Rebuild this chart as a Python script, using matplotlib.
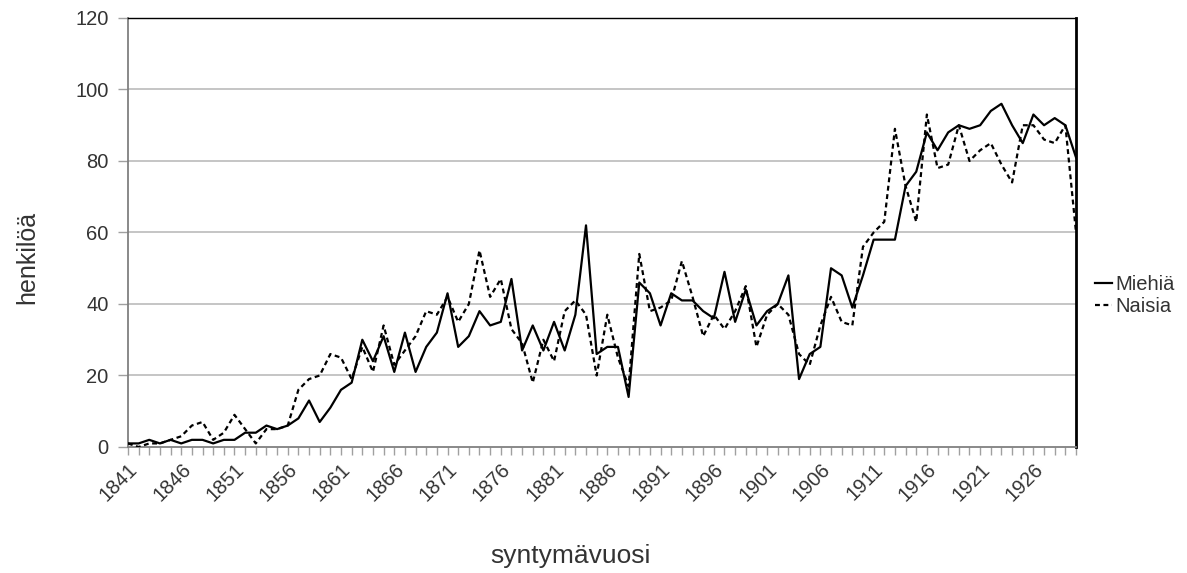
import matplotlib
matplotlib.use("Agg")
import matplotlib.pyplot as plt
import numpy as np

plt.rcParams['font.family'] = ['Liberation Sans', 'DejaVu Sans']

years = list(range(1841, 1931))

miehia = [1, 1, 2, 1, 2, 1, 2, 2, 1, 2,
          2, 4, 4, 6, 5, 6, 8, 13, 7, 11,
          16, 18, 30, 24, 31, 21, 32, 21, 28, 32,
          43, 28, 31, 38, 34, 35, 47, 27, 34, 27,
          35, 27, 37, 62, 26, 28, 28, 14, 46, 43,
          34, 43, 41, 41, 38, 36, 49, 35, 44, 34,
          38, 40, 48, 19, 26, 28, 50, 48, 39, 48,
          58, 58, 58, 73, 77, 88, 83, 88, 90, 89,
          90, 94, 96, 90, 85, 93, 90, 92, 90, 81]

naisia = [1, 0, 1, 1, 2, 3, 6, 7, 2, 4,
          9, 5, 1, 5, 5, 6, 16, 19, 20, 26,
          25, 19, 28, 21, 34, 23, 27, 31, 38, 37,
          42, 35, 40, 55, 42, 47, 33, 29, 18, 30,
          24, 38, 41, 37, 20, 37, 25, 17, 54, 38,
          39, 41, 52, 42, 31, 37, 33, 38, 45, 28,
          37, 40, 37, 26, 23, 34, 42, 35, 34, 56,
          60, 63, 89, 73, 63, 93, 78, 79, 90, 80,
          83, 85, 79, 74, 90, 90, 86, 85, 90, 60]

label_years = [y for y in years if (y - 1841) % 5 == 0]

fig = plt.figure(figsize=(11.87, 5.73), dpi=100)
ax = fig.add_axes([0.1078, 0.2199, 0.7987, 0.7487])

grid_col = "#c0c0c0"
for v in [20, 40, 60, 80, 100]:
    ax.axhline(v, color=grid_col, linewidth=1.3, zorder=1)

ax.plot(years, miehia, color="black", linewidth=1.6, label="Miehiä", zorder=3)
ax.plot(years, naisia, color="black", linewidth=1.6, linestyle=(0, (2.2, 1.6)),
        label="Naisia", zorder=3)

ax.set_xlim(1841, 1930)
ax.set_ylim(0, 120)
ax.set_yticks([0, 20, 40, 60, 80, 100, 120])

ax.set_xticks(years, minor=True)
ax.set_xticks(label_years)
ax.set_xticklabels([str(y) for y in label_years], rotation=45, ha="right",
                   rotation_mode="anchor")

ax.tick_params(axis="both", which="both", direction="out", length=7,
               color="#a0a0a0", width=1, labelsize=14.5, labelcolor="#333333")
ax.tick_params(axis="x", which="both", length=6, pad=3)
ax.tick_params(axis="y", pad=7)

ax.spines["left"].set_color("#808080")
ax.spines["bottom"].set_color("#808080")
ax.spines["left"].set_linewidth(1.3)
ax.spines["bottom"].set_linewidth(1.3)
ax.spines["top"].set_color("black")
ax.spines["top"].set_linewidth(1.0)
ax.spines["right"].set_color("black")
ax.spines["right"].set_linewidth(2.0)

ax.set_ylabel("henkilöä", fontsize=18, color="#333333", va="center")
ax.yaxis.set_label_coords(-0.1065, 0.443)
ax.set_xlabel("syntymävuosi", fontsize=19, color="#333333", va="center")
ax.xaxis.set_label_coords(0.467, -0.255)

ax.legend(loc="center left", bbox_to_anchor=(1.0, 0.352), frameon=False,
          fontsize=14.5, handlelength=0.85, handletextpad=0.15,
          labelspacing=0.15, borderaxespad=0.55, labelcolor="#333333")

fig.savefig("out.png", dpi=100)
